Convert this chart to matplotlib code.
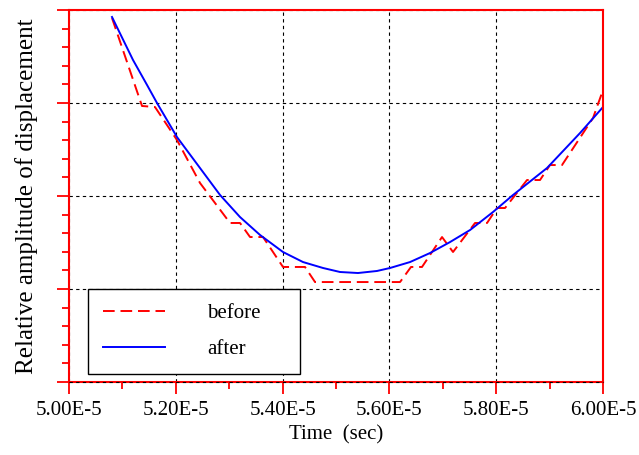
import numpy as np
import matplotlib
matplotlib.use("Agg")
import matplotlib.pyplot as plt
from matplotlib.ticker import MultipleLocator, FuncFormatter

plt.rcParams['font.family'] = ['Liberation Serif', 'DejaVu Serif']

# time in units of 1e-5 s, relative amplitude (arbitrary units)
t_before = [5.0805, 5.1367, 5.1610, 5.2022, 5.2453, 5.3015, 5.3202,
            5.3390, 5.3633, 5.4007, 5.4419, 5.4607, 5.6199, 5.6404, 5.6610,
            5.6985, 5.7191, 5.7603, 5.7828, 5.8015, 5.8165, 5.8577, 5.8820,
            5.9007, 5.9232, 5.9813, 6.0000]
amp_before = [3.914, 2.968, 2.957, 2.602, 2.140, 1.710, 1.710,
              1.559, 1.559, 1.237, 1.237, 1.075, 1.075, 1.237, 1.237,
              1.559, 1.398, 1.710, 1.710, 1.871, 1.871, 2.172, 2.172,
              2.333, 2.333, 2.839, 3.140]

t_after = [5.0805, 5.1199, 5.1461, 5.1648, 5.2022, 5.2453, 5.2828, 5.3202,
           5.3577, 5.4007, 5.4382, 5.4757, 5.5075, 5.5412, 5.5768, 5.6011,
           5.6386, 5.6760, 5.7135, 5.7509, 5.7940, 5.8315, 5.8951, 5.9569,
           6.0000]
amp_after = [3.925, 3.462, 3.194, 3.000, 2.634, 2.301, 2.011, 1.774,
             1.581, 1.398, 1.290, 1.226, 1.183, 1.172, 1.194, 1.226,
             1.290, 1.387, 1.505, 1.634, 1.828, 2.011, 2.301, 2.677,
             2.957]

t_before = np.array(t_before) * 1e-5
t_after = np.array(t_after) * 1e-5

fig = plt.figure(figsize=(6.39, 4.55), dpi=100)
ax = fig.add_axes([0.108, 0.1604, 0.8357, 0.8176])

ax.plot(t_before, amp_before, color='#ff0000', lw=1.4, linestyle=(0, (6, 3)), label='before')
ax.plot(t_after, amp_after, color='#0000ff', lw=1.4, label='after')

ax.set_xlim(5.0e-5, 6.0e-5)
ax.set_ylim(0, 4)
ax.xaxis.set_major_locator(MultipleLocator(0.2e-5))
ax.xaxis.set_minor_locator(MultipleLocator(0.1e-5))
ax.yaxis.set_major_locator(MultipleLocator(1))
ax.yaxis.set_minor_locator(MultipleLocator(0.2))
ax.xaxis.set_major_formatter(FuncFormatter(lambda v, p: f"{v*1e5:.2f}E-5"))

ax.tick_params(axis='both', which='major', direction='out', length=8.5, width=1.3,
               color='#ff0000', labelsize=15, pad=5)
ax.tick_params(axis='both', which='minor', direction='out', length=5, width=1.3,
               color='#ff0000')
ax.tick_params(axis='y', which='both', labelleft=False)

for s in ax.spines.values():
    s.set_color('#ff0000')
    s.set_linewidth(1.5)

ax.set_axisbelow(True)
ax.grid(True, which='major', color='black', lw=0.8, linestyle=(0, (3, 3)))
ax.axhline(0, color='black', lw=0.8, linestyle=(0, (3, 3)), zorder=3, clip_on=False)

ax.set_xlabel('Time  (sec)', fontsize=15, labelpad=4)
ax.set_ylabel('Relative amplitude of displacement', fontsize=18, labelpad=14)

leg = ax.legend(loc='upper left', bbox_to_anchor=(0.0356, 0.0, 0.397, 0.25),
                mode='expand', borderaxespad=0, fontsize=15, frameon=True,
                fancybox=False, framealpha=1, edgecolor='black',
                handlelength=3.0, handletextpad=2.0, labelspacing=0.8,
                borderpad=0.7)
leg.get_frame().set_linewidth(1.0)

fig.savefig('out.png', dpi=100)
